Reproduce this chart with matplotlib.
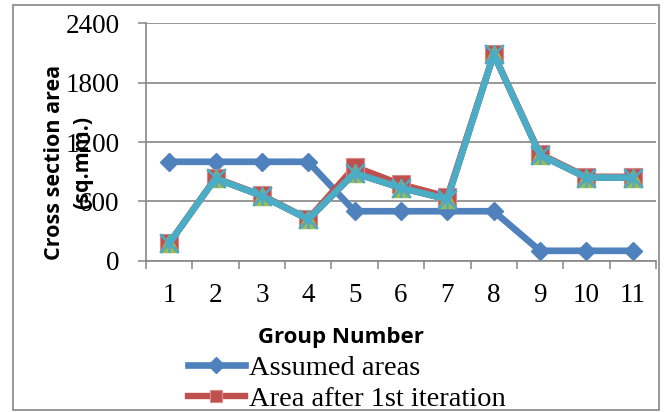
import matplotlib
matplotlib.use("Agg")
import matplotlib.pyplot as plt
from matplotlib.path import Path
from matplotlib.patches import Rectangle
import numpy as np

groups = ["1", "2", "3", "4", "5", "6", "7", "8", "9", "10", "11"]
assumed = [1000, 1000, 1000, 1000, 500, 500, 500, 500, 100, 100, 100]
iter1 = [178, 836, 662, 422, 950, 772, 647, 2090, 1079, 849, 849]
iter2 = [175, 832, 655, 418, 886, 735, 622, 2085, 1069, 840, 840]
iter3 = [175, 832, 655, 418, 886, 735, 622, 2085, 1069, 840, 840]
iter4 = [175, 832, 655, 418, 886, 735, 622, 2085, 1069, 840, 840]
yticks = [0, 600, 1200, 1800, 2400]

W, H = 666, 412
fig = plt.figure(figsize=(W / 100, H / 100), dpi=100)
ax = fig.add_axes([146 / W, (H - 260.7) / H, 510 / W, (260.7 - 23.3) / H])

x = np.arange(len(groups))
grid_c = "#868686"
serif = "Liberation Serif"
sans = "Open Sans"

star = Path([(-1, -1), (1, 1), (-1, 1), (1, -1), (0, -1), (0, 1)],
            [Path.MOVETO, Path.LINETO, Path.MOVETO, Path.LINETO, Path.MOVETO, Path.LINETO])

l1, = ax.plot(x, assumed, color="#4F81BD", lw=4.8, marker="D", ms=9.4,
              mfc="#4F81BD", mec="#4F81BD", label="Assumed areas")
l2, = ax.plot(x, iter1, color="#C0504D", lw=4.6, marker="s", ms=13.5,
              mfc="#C0504D", mec="#D88A88", mew=0.8, label="Area after 1st iteration")
ax.plot(x, iter2, color="#9BBB59", lw=4.6, marker="^", ms=13,
        mfc="#9BBB59", mec="#9BBB59")
ax.plot(x, iter3, color="#8064A2", lw=4.6, marker="x", ms=12, mew=1.8,
        mec="#8064A2")
ax.plot(x, iter4, color="#4BACC6", lw=4.6, marker=star, ms=13.5, mew=1.8,
        mec="#4BACC6", mfc="none")

ax.set_xlim(-0.5, len(groups) - 0.5)
ax.set_ylim(yticks[0], yticks[-1])
ax.set_yticks(yticks)
ax.set_yticklabels([str(v) for v in yticks], fontfamily=serif, fontsize=19.5)
ax.set_xticks(np.arange(len(groups) + 1) - 0.5)
ax.set_xticklabels([])
ax.set_xticks(x, minor=True)
ax.set_xticklabels(groups, minor=True, fontfamily=serif, fontsize=19.5)
ax.tick_params(axis="x", which="major", length=6, width=1.1, color=grid_c, direction="out")
ax.tick_params(axis="x", which="minor", length=0, pad=16)
ax.tick_params(axis="y", which="major", length=6, width=1.1, color=grid_c, direction="out", pad=13)
ax.yaxis.grid(True, color=grid_c, lw=1.2)
ax.set_axisbelow(True)
for s in ["top", "right"]:
    ax.spines[s].set_visible(False)
for s in ["left", "bottom"]:
    ax.spines[s].set_color(grid_c)
    ax.spines[s].set_linewidth(1.2)

fig.text(341 / W, (H - 338) / H, "Group Number", ha="center", va="center",
         fontfamily=sans, fontweight="bold", fontsize=16)
fig.text(68.5 / W, (H - 162) / H, "Cross section area\n(sq.mm.)", rotation=90,
         ha="center", va="center", multialignment="center", linespacing=1.45,
         fontfamily=sans, fontweight="bold", fontsize=15.5)

leg = fig.legend(handles=[l1, l2], loc="upper left",
                 bbox_to_anchor=(188 / W, (H - 355) / H), frameon=False,
                 prop={"family": serif, "size": 20.5}, handlelength=2.0,
                 handletextpad=0.15, labelspacing=0.18, borderpad=0,
                 borderaxespad=0)
for h, ms in zip(leg.legend_handles, [8.0, 9.0]):
    h.set_markersize(ms)

fig.add_artist(Rectangle((13 / W, 2 / H), 646 / W, 405.5 / H, transform=fig.transFigure,
                         fill=False, edgecolor=grid_c, lw=1.2))

fig.savefig("out.png", dpi=100)
